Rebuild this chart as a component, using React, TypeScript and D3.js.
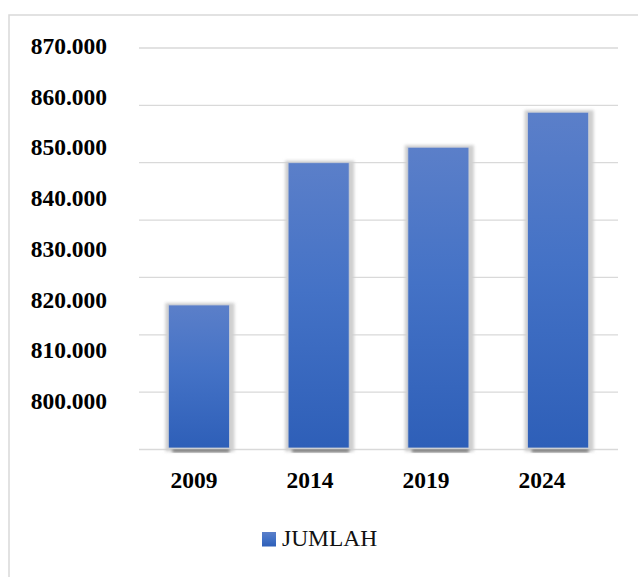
import React, { useEffect, useRef } from "react";
import * as d3 from "d3";

// data
const years: string[] = ["2009", "2014", "2019", "2024"];
const jumlah: number[] = [825200, 850000, 852700, 858800];
const yTicks: number[] = [800000, 810000, 820000, 830000, 840000, 850000, 860000, 870000];
const seriesName = "JUMLAH";

const App: React.FC = () => {
  const svgRef = useRef<SVGSVGElement | null>(null);

  useEffect(() => {
    const width = 638;
    const height = 577;
    const plotLeft = 139;
    const plotRight = 618;
    const plotTop = 48;
    const plotBottom = 449.5;
    const font = "'Liberation Serif', 'Times New Roman', serif";

    const svg = d3.select(svgRef.current);
    svg.selectAll("*").remove();
    svg.attr("viewBox", [0, 0, width, height]).attr("width", width).attr("height", height);

    const defs = svg.append("defs");
    const grad = defs
      .append("linearGradient")
      .attr("id", "barGrad")
      .attr("x1", 0)
      .attr("y1", 0)
      .attr("x2", 0)
      .attr("y2", 1);
    grad.append("stop").attr("offset", "0%").attr("stop-color", "#5b7fc9");
    grad.append("stop").attr("offset", "45%").attr("stop-color", "#4472c6");
    grad.append("stop").attr("offset", "100%").attr("stop-color", "#2e5fb8");

    const blur = defs.append("filter").attr("id", "soft").attr("x", "-20%").attr("y", "-20%").attr("width", "140%").attr("height", "140%");
    blur.append("feGaussianBlur").attr("stdDeviation", 1.6);

    // outer frame
    svg
      .append("rect")
      .attr("x", 9)
      .attr("y", 15)
      .attr("width", 640)
      .attr("height", 600)
      .attr("fill", "none")
      .attr("stroke", "#d9d9d9")
      .attr("stroke-width", 1.5);

    const x = d3.scaleBand().domain(years).range([plotLeft, plotRight]).paddingInner(0.49).paddingOuter(0.245);

    const y = d3.scaleLinear().domain([800000, 870000]).range([plotBottom, plotTop]);

    // labels are drawn a bit compressed in the original
    const yLabel = d3.scaleLinear().domain([800000, 870000]).range([409, 54]);
    const xLabel = d3.scalePoint().domain(years).range([194, 542]);

    const fmt = (v: number) => d3.format(",.0f")(v).replace(/,/g, ".");

    // gridlines
    svg
      .append("g")
      .selectAll("line")
      .data(yTicks)
      .join("line")
      .attr("x1", plotLeft)
      .attr("x2", plotRight)
      .attr("y1", (d) => y(d))
      .attr("y2", (d) => y(d))
      .attr("stroke", "#d9d9d9")
      .attr("stroke-width", 1.3);

    // y labels
    svg
      .append("g")
      .selectAll("text")
      .data(yTicks)
      .join("text")
      .attr("x", 107)
      .attr("y", (d) => yLabel(d))
      .attr("text-anchor", "end")
      .attr("font-family", font)
      .attr("font-weight", "bold")
      .attr("font-size", 23.5)
      .attr("fill", "#000")
      .text((d) => fmt(d));

    const bars = svg.append("g").selectAll("g").data(jumlah).join("g");

    // shadow
    bars
      .append("rect")
      .attr("x", (_, i) => (x(years[i]) as number) - 3)
      .attr("y", (d) => y(d) - 2)
      .attr("width", x.bandwidth() + 8)
      .attr("height", (d) => plotBottom - y(d) + 4)
      .attr("fill", "#cfcfcf")
      .attr("filter", "url(#soft)");

    // dark foot under the bar
    bars
      .append("rect")
      .attr("x", (_, i) => (x(years[i]) as number) + 4)
      .attr("y", plotBottom)
      .attr("width", x.bandwidth() - 4)
      .attr("height", 2.5)
      .attr("fill", "#5a5a5a")
      .attr("filter", "url(#soft)");

    bars
      .append("rect")
      .attr("x", (_, i) => x(years[i]) as number)
      .attr("y", (d) => y(d))
      .attr("width", x.bandwidth())
      .attr("height", (d) => plotBottom - 1.5 - y(d))
      .attr("fill", "url(#barGrad)")
      .attr("stroke", "#c9cdd6")
      .attr("stroke-width", 0.8);

    // x labels
    svg
      .append("g")
      .selectAll("text")
      .data(years)
      .join("text")
      .attr("x", (d) => xLabel(d) as number)
      .attr("y", 488)
      .attr("text-anchor", "middle")
      .attr("font-family", font)
      .attr("font-weight", "bold")
      .attr("font-size", 23.5)
      .attr("fill", "#000")
      .text((d) => d);

    // legend
    const legend = svg.append("g").attr("transform", "translate(262,532)");
    legend.append("rect").attr("width", 14).attr("height", 14.5).attr("fill", "url(#barGrad)");
    legend
      .append("text")
      .attr("x", 20)
      .attr("y", 14)
      .attr("font-family", font)
      .attr("font-size", 23.5)
      .attr("fill", "#111")
      .text(seriesName);
  }, []);

  return (
    <div style={{ position: "absolute", left: 0, top: 0, width: 638, height: 577, background: "#fff" }}>
      <svg ref={svgRef} style={{ display: "block" }}></svg>
    </div>
  );
};

export default App;
